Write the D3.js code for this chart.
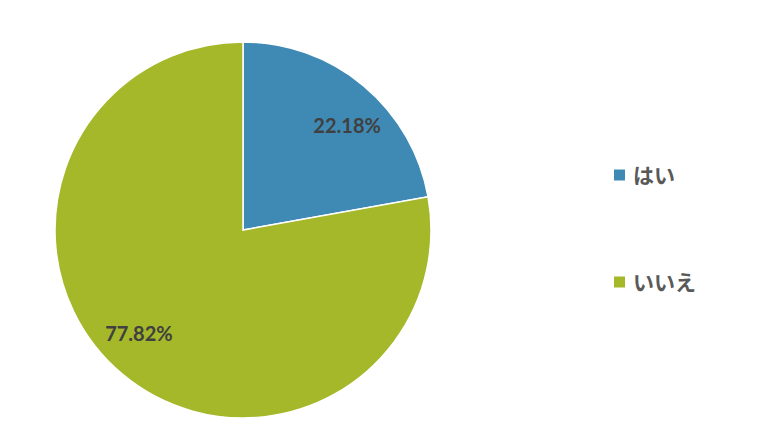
<!DOCTYPE html>
<html>
<head>
<meta charset="utf-8">
<script src="https://cdn.jsdelivr.net/npm/d3@7"></script>
<style>
  body { margin: 0; background: #fff; }
</style>
</head>
<body>
<svg></svg>
<script>
const size = {w: 780, h: 438};
const categories = ['はい', 'いいえ'];
const values = [22.18, 77.82];
const colors = ['#3F8AB5', '#A5B829'];

const svg = d3.select('svg')
    .attr('width', size.w)
    .attr('height', size.h);

const center = {x: 243, y: 230};
const radius = 188;

const pie = d3.pie().sort(null).value(d => d.value);
const arcs = pie(categories.map((c, i) => ({name: c, value: values[i]})));

const color = d3.scaleOrdinal().domain(categories).range(colors);

const arc = d3.arc().innerRadius(0).outerRadius(radius);

const g = svg.append('g')
    .attr('transform', `translate(${center.x},${center.y})`);

g.selectAll('path')
    .data(arcs)
    .join('path')
    .attr('d', arc)
    .attr('fill', d => color(d.data.name))
    .attr('stroke', '#fff')
    .attr('stroke-width', 1.5);

// labels sit a bit inside the rim, nudged clockwise like the original
const labelR = 147;
g.selectAll('text')
    .data(arcs)
    .join('text')
    .attr('transform', d => {
        const a = (d.startAngle + d.endAngle) / 2 + 0.09;
        return `translate(${Math.sin(a) * labelR},${-Math.cos(a) * labelR})`;
    })
    .attr('text-anchor', 'middle')
    .attr('dy', '0.36em')
    .attr('font-family', 'Lato, sans-serif')
    .attr('font-weight', 700)
    .attr('font-size', 20)
    .attr('fill', '#404040')
    .text(d => d.data.value.toFixed(2) + '%');

// legend
const legendY = d3.scalePoint().domain(categories).range([175, 282]);

const legend = svg.append('g')
    .selectAll('g')
    .data(categories)
    .join('g')
    .attr('transform', d => `translate(614,${legendY(d)})`);

legend.append('rect')
    .attr('x', 0)
    .attr('y', -5.5)
    .attr('width', 11)
    .attr('height', 11)
    .attr('fill', d => color(d));

legend.append('text')
    .attr('x', 19)
    .attr('dy', '0.36em')
    .attr('font-family', '"Noto Sans CJK JP", sans-serif')
    .attr('font-weight', 700)
    .attr('font-size', 21)
    .attr('fill', '#595959')
    .text(d => d);
</script>
</body>
</html>
